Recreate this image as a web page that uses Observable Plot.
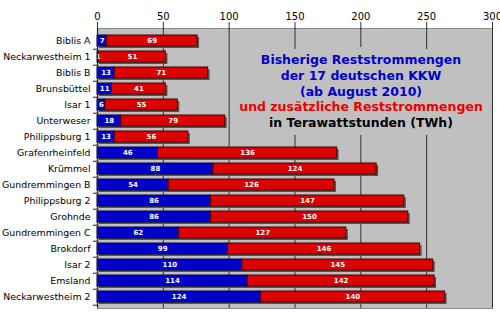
<!DOCTYPE html>
<html><head><meta charset="utf-8">
<script src="https://cdn.jsdelivr.net/npm/d3@7"></script>
<script src="https://cdn.jsdelivr.net/npm/@observablehq/plot@0.6"></script>
<style>body{margin:0;background:#fff}</style>
</head><body><div id="chart"></div>
<script>
const names = ["Biblis A","Neckarwestheim 1","Biblis B","Brunsbüttel","Isar 1","Unterweser","Philippsburg 1","Grafenrheinfeld","Krümmel","Gundremmingen B","Philippsburg 2","Grohnde","Gundremmingen C","Brokdorf","Isar 2","Emsland","Neckarwestheim 2"];
const bisherig = [7,1,13,11,6,18,13,46,88,54,86,86,62,99,110,114,124];
const zusaetzlich = [69,51,71,41,55,79,56,136,124,126,147,150,127,146,145,142,140];
const xTicks = [0,50,100,150,200,250,300];
const titleLines = [
  {text:"Bisherige Reststrommengen", color:"#0000cc"},
  {text:"der 17 deutschen KKW", color:"#0000cc"},
  {text:"(ab August 2010)", color:"#0000cc"},
  {text:"und zusätzliche Reststrommengen", color:"#ee0000"},
  {text:"in Terawattstunden (TWh)", color:"#000000"}
];
const rows = names.map((n,i)=>({name:n, blue:bisherig[i], red:zusaetzlich[i]}));
const step = 16.44;
const haloMarks = titleLines.map((t,i)=>Plot.text([t.text], {
  frameAnchor:"top", dx:66, dy:27 + i*15.6, text:d=>d, fill:"#c0c0c0",
  fontSize:12.5, fontWeight:"bold", stroke:"#c0c0c0", strokeWidth:16
}));
const titleMarks = titleLines.map((t,i)=>Plot.text([t.text], {
  frameAnchor:"top", dx:66, dy:27 + i*15.6, text:d=>d, fill:t.color,
  fontSize:12.5, fontWeight:"bold"
}));
const chart = Plot.plot({
  width:500, height:322,
  marginLeft:97, marginRight:8, marginTop:28, marginBottom:14,
  style:{fontFamily:"DejaVu Sans", background:"#fff"},
  x:{domain:[0,300], axis:null, label:null},
  y:{domain:names, paddingInner:0.33, paddingOuter:0.18, axis:null, label:null},
  marks:[
    Plot.frame({fill:"#c0c0c0", stroke:"#8a8a8a"}),
    Plot.ruleX(xTicks, {stroke:"#333", strokeWidth:1}),
    Plot.axisX({anchor:"top", ticks:xTicks, tickSize:7, tickPadding:2, fontSize:10, stroke:"#333", color:"#000", label:null}),
    ...haloMarks,
    ...titleMarks,
    Plot.barX(rows, {x1:0, x2:d=>d.blue+d.red, y:"name", fill:"#555", dx:2, dy:2}),
    Plot.barX(rows, {x1:0, x2:"blue", y:"name", fill:"#0000cc", stroke:"#000044", strokeWidth:1}),
    Plot.barX(rows, {x1:"blue", x2:d=>d.blue+d.red, y:"name", fill:"#dd0000", stroke:"#440000", strokeWidth:1}),
    Plot.text(rows, {x:d=>d.blue/2, y:"name", text:"blue", fill:"#fff", fontSize:7, fontWeight:"bold"}),
    Plot.text(rows, {x:d=>d.blue+d.red/2, y:"name", text:"red", fill:"#fff", fontSize:7, fontWeight:"bold"}),
    Plot.ruleX([0], {stroke:"#222", strokeWidth:1.2}),
    Plot.axisY({tickSize:0, tickPadding:7, fontSize:9.4, color:"#000", label:null}),
    Plot.axisY({tickSize:4, tickFormat:()=>"", dy:step/2, stroke:"#222", label:null})
  ]
});
document.getElementById("chart").appendChild(chart);
</script>
</body></html>
